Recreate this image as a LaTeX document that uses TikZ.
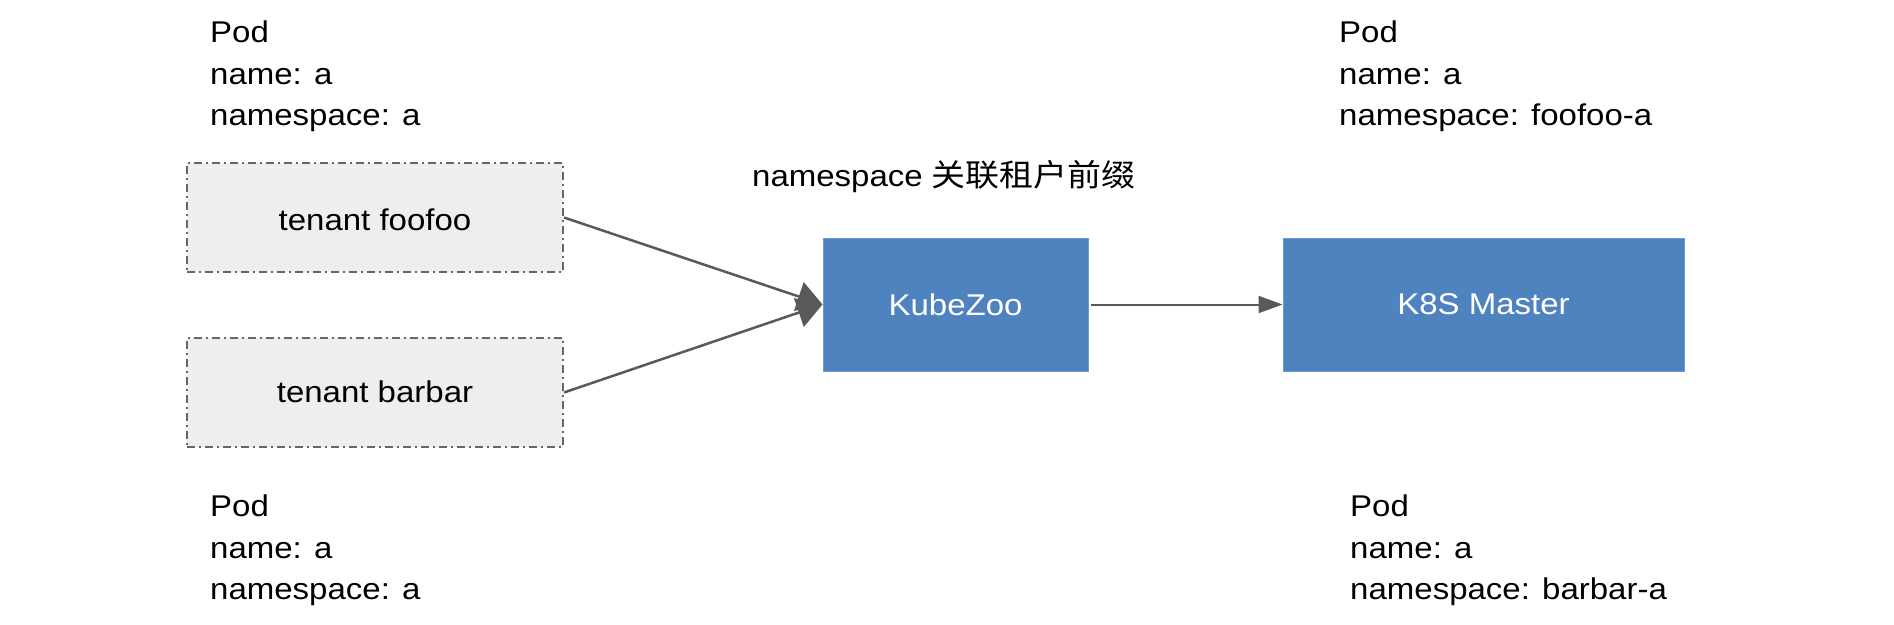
\documentclass[tikz,border=0pt]{standalone}
\usepackage{fontspec}
\setmainfont{Liberation Sans}[FakeStretch=1.1]
\newfontfamily\cjk{Noto Sans CJK SC}[FakeStretch=1.1,Scale=1.03]
\usetikzlibrary{arrows.meta}
\definecolor{boxblue}{HTML}{4F83BF}
\definecolor{boxborder}{HTML}{6A9BD6}
\definecolor{tenantfill}{HTML}{EEEEEE}
\definecolor{tenantline}{HTML}{666666}
\definecolor{arrowgray}{HTML}{595959}
\tikzset{
  txt/.style={font=\fontsize{30}{41.5}\selectfont, inner sep=0pt, align=left},
  tenantbox/.style={draw=tenantline, fill=tenantfill, line width=2pt,
    dash pattern=on 8pt off 4pt on 2pt off 4pt,
    minimum width=376pt, minimum height=109pt, inner sep=0pt,
    font=\fontsize{30}{40}\selectfont},
  bluebox/.style={draw=boxborder, fill=boxblue, line width=1pt, text=white,
    minimum height=133pt, inner sep=0pt, font=\fontsize{30}{40}\selectfont},
  bigarrow/.style={draw=arrowgray, line width=2.5pt,
    -{Triangle[length=25pt,width=30pt]}},
  smallarrow/.style={draw=arrowgray, line width=2pt,
    -{Triangle[length=24pt,width=17pt]}}
}
\begin{document}
\begin{tikzpicture}[x=1pt,y=-1pt]
\useasboundingbox (0,0) rectangle (1894,624);
\node[txt, anchor=north west] (podtl) at (210,21) {Pod\\name: a\\namespace: a};
\node[txt, anchor=north west] (podbl) at (210,495) {Pod\\name: a\\namespace: a};
\node[txt, anchor=north west] (podtr) at (1339,21) {Pod\\name: a\\namespace: foofoo-a};
\node[txt, anchor=north west] (podbr) at (1350,495) {Pod\\name: a\\namespace: barbar-a};
\node[txt, anchor=base west] (label) at (752,186) {namespace {\cjk 关联租户前缀}};
\node[tenantbox, text height=26pt, text depth=0pt] (foo) at (375,217.5) {tenant foofoo};
\node[tenantbox, text height=24pt, text depth=4pt] (bar) at (375,392.5) {tenant barbar};
\node[bluebox, minimum width=265pt] (kube) at (955.5,304.5) {KubeZoo};
\node[bluebox, minimum width=401pt] (k8s) at (1483.5,304.5) {K8S Master};
\draw[bigarrow] (foo.east) -- (kube.west);
\draw[bigarrow] (bar.east) -- (kube.west);
\draw[smallarrow] ([xshift=2pt]kube.east) -- (k8s.west);
\end{tikzpicture}
\end{document}
